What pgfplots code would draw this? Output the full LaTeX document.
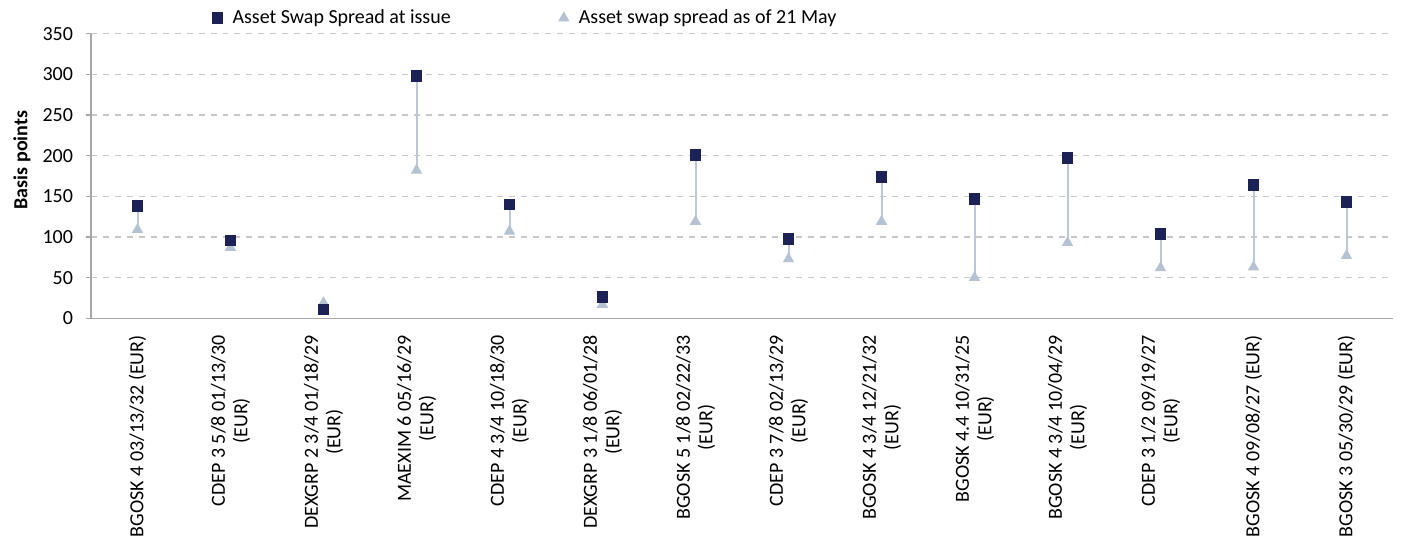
\documentclass[border=0pt]{standalone}
\usepackage{pgfplots}
\pgfplotsset{compat=1.18}
\usepackage{pgfplotstable}
\usepackage{fontspec}
\setmainfont{Carlito}
\definecolor{issuenavy}{HTML}{1C2255}
\definecolor{nowblue}{HTML}{B4C2D3}
\definecolor{stemblue}{HTML}{BCC8D8}
\definecolor{axisgray}{HTML}{A6A6A6}
\definecolor{gridgray}{HTML}{C8C8C8}

% x = category index, issue = spread at issue, now = spread as of 21 May
\pgfplotstableread{
x issue now
0 138 109
1 96 87
2 11 19
3 298 182
4 140 107
5 26 17
6 201 119
7 98 73
8 174 119
9 147 50
10 197 93
11 104 62
12 164 63
13 143 77
}\spreads

\begin{document}
\begin{tikzpicture}[font=\fontsize{10bp}{11.2bp}\selectfont]
\begin{axis}[
    scale only axis,
    width=651bp, height=142.3bp,
    xmin=-0.5, xmax=13.5,
    ymin=0, ymax=350,
    axis x line*=bottom, axis y line*=left,
    axis line style={draw=axisgray, line width=0.6bp},
    tick align=outside,
    major tick length=2.5bp,
    minor tick length=2.5bp,
    tick style={draw=axisgray, line width=0.6bp},
    ytick={0,50,...,350},
    yticklabel style={xshift=-3bp},
    ymajorgrids=true,
    grid style={draw=gridgray, dashed, line width=0.6bp},
    xtick={0,...,13},
    minor xtick={-0.5,0.5,...,13.5},
    xtick style={draw=none},
    xticklabels={
      {BGOSK 4 03/13/32 (EUR)},
      {CDEP 3 5/8 01/13/30\\(EUR)},
      {DEXGRP 2 3/4 01/18/29\\(EUR)},
      {MAEXIM 6 05/16/29\\(EUR)},
      {CDEP 4 3/4 10/18/30\\(EUR)},
      {DEXGRP 3 1/8 06/01/28\\(EUR)},
      {BGOSK 5 1/8 02/22/33\\(EUR)},
      {CDEP 3 7/8 02/13/29\\(EUR)},
      {BGOSK 4 3/4 12/21/32\\(EUR)},
      {BGOSK 4.4 10/31/25\\(EUR)},
      {BGOSK 4 3/4 10/04/29\\(EUR)},
      {CDEP 3 1/2 09/19/27\\(EUR)},
      {BGOSK 4 09/08/27 (EUR)},
      {BGOSK 3 05/30/29 (EUR)}},
    xticklabel style={rotate=90, anchor=east, align=center},
    xticklabel shift=2.5bp,
    /pgf/number format/assume math mode=true,
    ylabel={\bfseries Basis points},
    ylabel style={at={(axis description cs:-0.053,0.556)}, anchor=center, rotate=0},
    legend style={draw=none, fill=none, legend columns=-1,
      at={(axis description cs:0.088,1.055)}, anchor=west,
      /tikz/every even column/.append style={column sep=53bp},
      nodes={inner sep=1bp},
      /tikz/every odd column/.append style={column sep=4bp}},
    legend cell align=left,
    reverse legend,
]
% stems between the two values
\addplot[draw=none, mark=none, forget plot,
    error bars/.cd, y dir=minus, y explicit,
    error mark=none, error bar style={draw=stemblue, line width=1bp}]
    table[x=x, y=issue, y error expr=\thisrow{issue}-\thisrow{now}] {\spreads};
\addplot[only marks, mark=triangle*, mark size=2.9bp,
    mark options={draw=nowblue, fill=nowblue}]
    table[x=x, y=now] {\spreads};
\addlegendentry{Asset swap spread as of 21 May}
\addplot[only marks, mark=square*, mark size=2.65bp,
    mark options={draw=issuenavy, fill=issuenavy}]
    table[x=x, y=issue] {\spreads};
\addlegendentry{Asset Swap Spread at issue}
\end{axis}
\pgfresetboundingbox
\path[use as bounding box] (-45.5bp,-110.35bp) rectangle (655bp,159.15bp);
\end{tikzpicture}
\end{document}
